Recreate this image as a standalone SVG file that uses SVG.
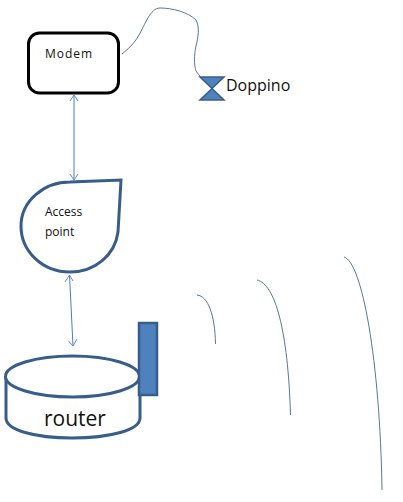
<svg xmlns="http://www.w3.org/2000/svg" width="403" height="502" viewBox="0 0 403 502">
<style>
text{font-family:"Open Sans","Noto Sans",sans-serif;fill:#111}
.s{font-size:12px}
.o{fill:#fff;stroke:#385d8a;stroke-width:3}
.f{fill:#4f81bd;stroke:#385d8a;stroke-width:2.500}
.c{fill:none;stroke:#4a7ebb;stroke-width:1}
.w{fill:none;stroke:#55789f;stroke-width:1}
.h{fill:none;stroke:#5f8fc4;stroke-width:1}
</style>
<rect width="403" height="502" fill="#fff"/>
<g id="connectors">
<path class="w" d="M122 54C128 49 134 44 139 35C145 25 150 8 160 8C172 8 188 12 196 20C200 27 198 38 196 46C194 55 194 65 196 71C198 74 200 76 202 78"/>
<path class="c" d="M74 95V180"/>
<path class="h" d="M70 101L74 95L78 101M70 174L74 180L78 174"/>
<path class="c" d="M69.500 275L73 346"/>
<path class="h" d="M65 282L69.500 275L73 281M68.500 341L73 346L77 339"/>
<path class="w" d="M197 295C208 296 215 315 215.500 344"/>
<path class="w" d="M257 280C275 284 288 330 290.500 415"/>
<path class="w" d="M344 257C362 262 380 360 382 490"/>
</g>
<g id="modem">
<rect x="28.500" y="33" width="90" height="60" rx="11" fill="#fff" stroke="#000" stroke-width="3"/>
<text class="s" x="45" y="58" letter-spacing="1">Modem</text>
</g>
<g id="doppino">
<path class="f" style="stroke-width:1.500" d="M200 77H224L212 88.500L224 100H200L212 88.500Z"/>
<text x="226" y="91" font-size="16" fill="#000">Doppino</text>
</g>
<g id="access-point">
<path class="o" d="M121 180L118 232C115 255 95 272 70 272C42 272 21 251 21 226C21 201 44 182 70 182Z"/>
<text class="s" x="45" y="216">Access</text>
<text class="s" x="45" y="236">point</text>
</g>
<g id="router">
<path class="o" d="M6 377V418C6 430 35 438 72 438C110 438 140 430 140 418V377"/>
<ellipse class="o" cx="72.500" cy="376.500" rx="67" ry="20.500"/>
<rect class="f" x="139" y="323" width="18" height="72"/>
<text x="44" y="426" font-size="21">router</text>
</g>
</svg>
